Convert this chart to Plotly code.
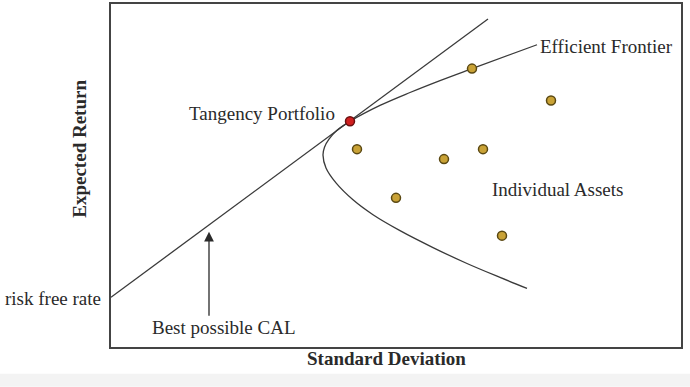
import plotly.graph_objects as go

# Data (arbitrary units: standard deviation on x, expected return on y)
frontier_sd = [42.6, 36.1, 32.9, 29.9, 26.9, 23.9, 22.6, 21.8, 21.35, 21.2, 21.5, 22.5, 24.2, 26.2, 28.9, 32.2, 35.6, 38.9, 41.6]
frontier_ret = [30.4, 28.0, 26.8, 25.6, 24.3, 22.7, 21.8, 20.9, 20.1, 19.3, 18.0, 16.5, 14.8, 13.3, 11.7, 10.0, 8.4, 7.0, 5.9]

cal_sd = [0.0, 37.7]
cal_ret = [5.0, 33.0]

asset_sd = [36.1, 44.0, 24.6, 33.3, 37.2, 28.5, 39.1]
asset_ret = [28.0, 24.8, 19.9, 18.9, 19.9, 15.0, 11.2]

tangency_sd = [23.9]
tangency_ret = [22.7]

FONT = "Liberation Serif"
LINE = "#3a3a3a"

fig = go.Figure()
fig.add_trace(go.Scatter(x=cal_sd, y=cal_ret, mode="lines",
                         line=dict(color=LINE, width=1.3), hoverinfo="skip"))
fig.add_trace(go.Scatter(x=frontier_sd, y=frontier_ret, mode="lines",
                         line=dict(color=LINE, width=1.3, shape="spline", smoothing=1.0),
                         hoverinfo="skip"))
fig.add_trace(go.Scatter(x=asset_sd, y=asset_ret, mode="markers",
                         marker=dict(size=9, color="#c9a236", line=dict(color="#5a4812", width=1.5))))
fig.add_trace(go.Scatter(x=tangency_sd, y=tangency_ret, mode="markers",
                         marker=dict(size=9, color="#d01f1f", line=dict(color="#6a1010", width=1.5))))

ann_font = dict(family=FONT, size=19, color="#2a2a2a")
annotations = [
    dict(x=22.6, y=23.5, text="Tangency Portfolio", xanchor="right", yanchor="middle",
         showarrow=False, font=ann_font),
    dict(x=42.7, y=30.2, text="Efficient Frontier", xanchor="left", yanchor="middle",
         showarrow=False, font=ann_font),
    dict(x=37.9, y=15.8, text="Individual Assets", xanchor="left", yanchor="middle",
         showarrow=False, font=ann_font),
    dict(x=-8 / 570, xref="paper", y=4.9, yref="y", text="risk free rate",
         xanchor="right", yanchor="middle", showarrow=False, font=ann_font),
    dict(x=3.9, y=2.0, text="Best possible CAL", xanchor="left", yanchor="middle",
         showarrow=False, font=ann_font),
    dict(x=9.8, y=11.6, ax=9.8, ay=3.0, xref="x", yref="y", axref="x", ayref="y",
         text="", showarrow=True, arrowhead=2, arrowsize=1.5, arrowwidth=1.3,
         arrowcolor="#2a2a2a"),
    dict(x=0.484, y=-0.0347, xref="paper", yref="paper", text="<b>Standard Deviation</b>",
         showarrow=False, xanchor="center", yanchor="middle",
         font=dict(family=FONT, size=19, color="#2a2a2a")),
    dict(x=-0.0544, y=0.578, xref="paper", yref="paper", text="<b>Expected Return</b>",
         showarrow=False, xanchor="center", yanchor="middle", textangle=-90,
         font=dict(family=FONT, size=19, color="#2a2a2a")),
]

shapes = [
    dict(type="rect", xref="paper", yref="paper", x0=-111 / 570, x1=579 / 570,
         y0=-40 / 345, y1=-27 / 345, fillcolor="#f3f3f3", line=dict(width=0), layer="below"),
]

axis_common = dict(showgrid=False, zeroline=False, showticklabels=False, ticks="",
                   showline=True, mirror=True, linecolor="#444444", linewidth=1.6)

fig.update_layout(
    width=690, height=387,
    margin=dict(l=111, r=9, t=2, b=40),
    paper_bgcolor="white", plot_bgcolor="white",
    showlegend=False,
    xaxis=dict(range=[0, 57], **axis_common),
    yaxis=dict(range=[0, 34.5], **axis_common),
    annotations=annotations,
    shapes=shapes,
)

fig.write_html("out.html")
